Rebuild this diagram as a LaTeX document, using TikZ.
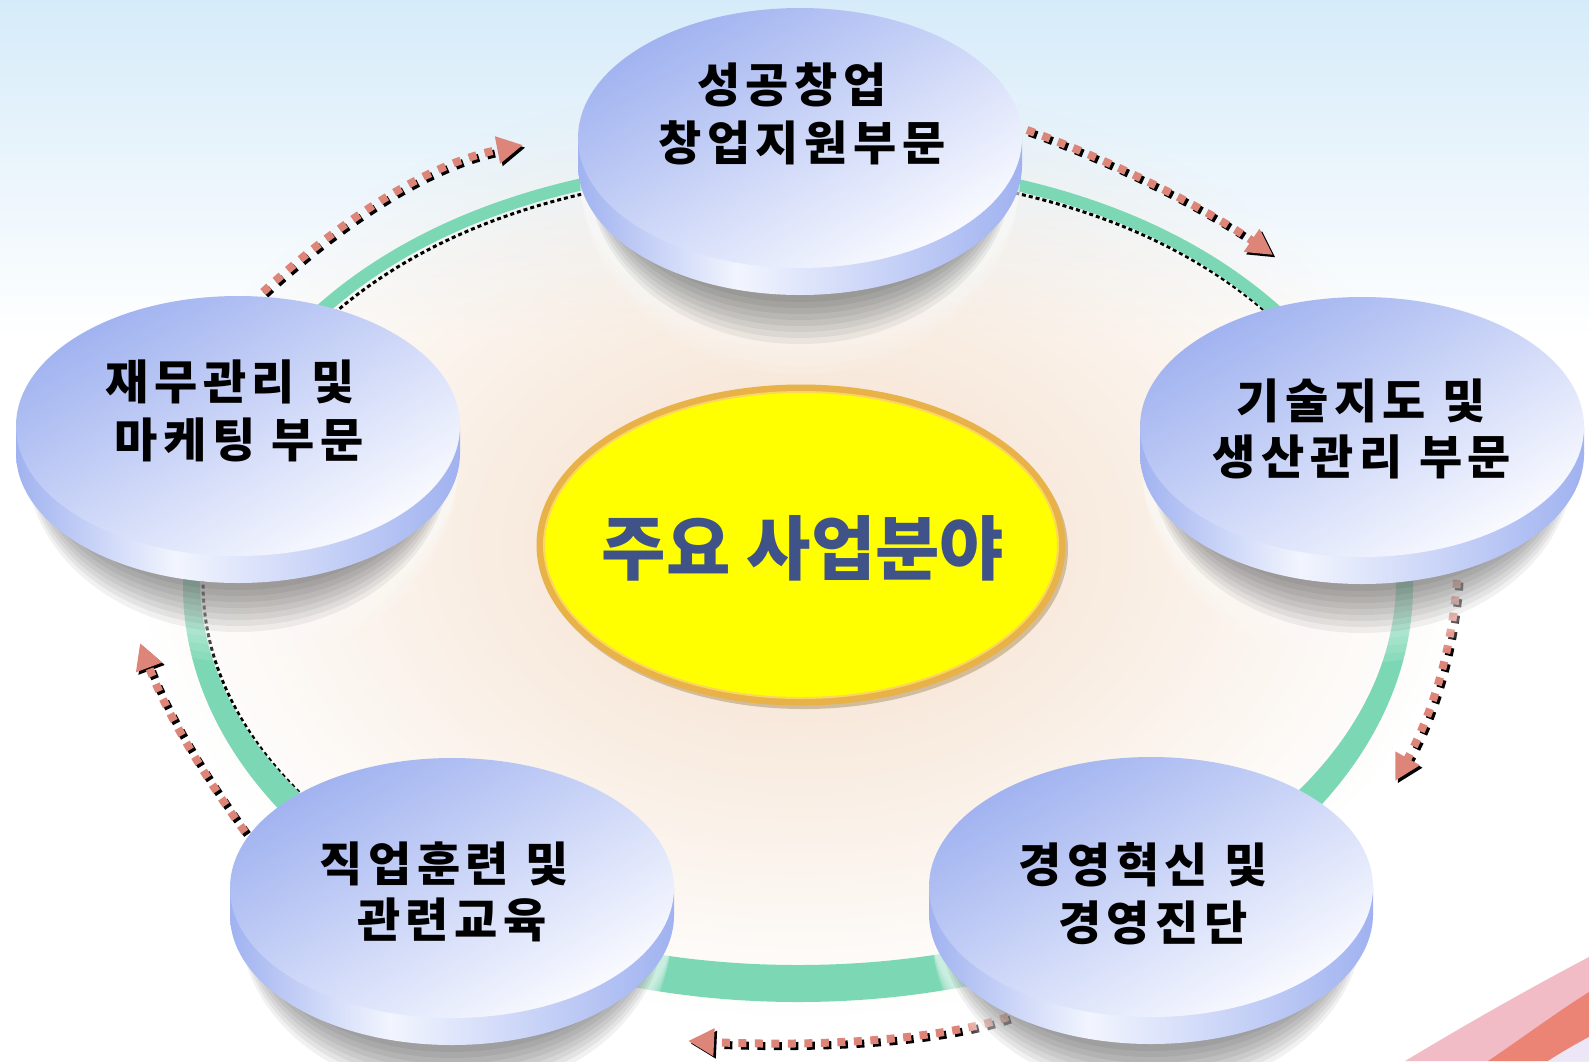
\documentclass[tikz,border=0pt]{standalone}
\usepackage{fontspec}
\newfontfamily\kr{Noto Sans CJK KR}
\usetikzlibrary{arrows.meta,fadings}
\definecolor{bgblue}{RGB}{214,235,249}
\definecolor{peach}{RGB}{244,221,200}
\definecolor{ringc}{RGB}{124,216,180}
\definecolor{arrc}{RGB}{220,133,120}
\definecolor{diskA}{RGB}{160,178,240}
\definecolor{diskB}{RGB}{250,251,255}
\definecolor{sideW}{RGB}{242,245,254}
\definecolor{yell}{RGB}{255,255,0}
\definecolor{gold}{RGB}{232,178,72}
\definecolor{goldL}{RGB}{250,214,96}
\definecolor{ctext}{RGB}{63,83,137}
\definecolor{pinkA}{RGB}{242,188,198}
\definecolor{salm}{RGB}{236,132,118}
\definecolor{lav}{RGB}{236,230,246}
\pgfdeclarehorizontalshading{diskside}{100bp}{color(0bp)=(diskA); color(25bp)=(diskA); color(43bp)=(sideW); color(75bp)=(diskA); color(100bp)=(diskA)}
\tikzfading[name=glowfade, inner color=transparent!0, outer color=transparent!100]
\tikzset{
  lbl/.style={font=\kr\bfseries\fontsize{47}{56}\selectfont\addfontfeature{LetterSpace=12}, anchor=base, inner sep=0pt, text=black},
  dotmain/.style={arrc, line width=8pt, dash pattern=on 8pt off 8.5pt, -{Triangle[length=26pt,width=26pt]}},
  dotshadow/.style={dotmain, black},
}
\newcommand\drawdisk[3]{%
  \shade[shading=diskside] (#2-222,#3) rectangle (#2+222,#3+27);
  \shade[shading=diskside] (#2,#3+27) ellipse [x radius=222, y radius=130];
  \shade[top color=diskA, bottom color=diskB, shading angle=30] (#2,#3) ellipse [x radius=222, y radius=130];
  \coordinate (#1) at (#2,#3);
}
\newcommand\diskshadow[2]{%
  \begin{scope}
  \clip (#1-260,#2+20) rectangle (#1+260,#2+320);
  \foreach \i in {0,...,7} {\fill[white, opacity=0.11] (#1,#2+40) ellipse [x radius=220, y radius={140+8*\i}];}
  \foreach \i in {0,...,7} {\fill[black, opacity=0.055] (#1,#2+34) ellipse [x radius={198+2*\i}, y radius={130+6*\i}];}
  \end{scope}
}
\newcommand\dotarrow[6]{%
  \draw[dotshadow] ([shift={(2.5,2.5)}]#1) .. controls (#2+2.5,#3+2.5) and (#4+2.5,#5+2.5) .. ([shift={(2.5,2.5)}]#6);
  \draw[dotmain] (#1) .. controls (#2,#3) and (#4,#5) .. (#6);
}
\newcommand\ringouter{(1413,586) .. controls (1413,394) and (1241,156) .. (798,156) .. controls (355,156) and (183,394) .. (183,586) .. controls (183,816) and (458,1002) .. (798,1002) .. controls (1138,1002) and (1413,816) .. (1413,586) -- cycle}
\newcommand\ringinner{(1396,580) .. controls (1396,396) and (1229,168) .. (798,168) .. controls (367,168) and (200,396) .. (200,580) .. controls (200,792.5) and (468,965) .. (798,965) .. controls (1128,965) and (1396,792.5) .. (1396,580) -- cycle}
\begin{document}
\begin{tikzpicture}[x=1pt,y=-1pt]
\useasboundingbox (0,0) rectangle (1589,1061);
\fill[white] (0,0) rectangle (1589,1061);
\shade[top color=bgblue, bottom color=white] (0,0) rectangle (1589,340);
\fill[peach, path fading=glowfade, fit fading=true] (801,545) ellipse [x radius=660, y radius=470];
% swoosh bottom right
\fill[pinkA] (1405,1061) .. controls (1470,1022) and (1530,988) .. (1589,957) -- (1589,1061) -- cycle;
\fill[salm] (1488,1061) .. controls (1525,1036) and (1557,1012) .. (1589,992) -- (1589,1061) -- cycle;
\fill[lav] (1548,1061) .. controls (1562,1052) and (1576,1044) .. (1589,1037) -- (1589,1061) -- cycle;
% ring
\begin{scope}[shift={(3,3)}]
\draw[black, line width=3pt, dash pattern=on 4pt off 3pt] \ringinner;
\end{scope}
\path[fill=ringc, even odd rule] \ringouter \ringinner;
% centre ellipse
\fill[black!40!gold, opacity=0.35] (804,549) ellipse [x radius=264, y radius=160];
\filldraw[fill=yell, draw=gold, line width=7pt] (801,545) ellipse [x radius=261, y radius=157];
\draw[goldL, line width=2pt] (801,545) ellipse [x radius=257, y radius=153];
\node[font=\kr\bfseries\fontsize{70}{80}\selectfont, text=ctext, anchor=base, inner sep=0pt] (core) at (803,574) {주요 사업분야};
% arrows
\coordinate (a1s) at (1027,130); \coordinate (a1e) at (1273,255);
\coordinate (a2s) at (1457,580); \coordinate (a2e) at (1395,781);
\coordinate (a3s) at (1008,1017); \coordinate (a3e) at (688,1041);
\coordinate (a4s) at (245,832); \coordinate (a4e) at (140,643);
\coordinate (a5s) at (263,292); \coordinate (a5e) at (523,145);
\dotarrow{a1s}{1110}{160}{1200}{205}{a1e}
\dotarrow{a2s}{1452}{650}{1432}{715}{a2e}
\dotarrow{a3s}{940}{1040}{820}{1047}{a3e}
\dotarrow{a4s}{200}{770}{165}{710}{a4e}
\dotarrow{a5s}{330}{230}{420}{165}{a5e}
% disk shadows
\diskshadow{800}{138}
\diskshadow{1362}{427}
\diskshadow{1151}{887}
\diskshadow{452}{888}
\diskshadow{238}{426}
% disks
\drawdisk{d1}{800}{138}
\drawdisk{d2}{1362}{427}
\drawdisk{d3}{1151}{887}
\drawdisk{d4}{452}{888}
\drawdisk{d5}{238}{426}
% labels
\node[lbl] (t1a) at (792,102) {성공창업};
\node[lbl] (t1b) at (802,160) {창업지원부문};
\node[lbl] (t2a) at (1361,418) {기술지도 및};
\node[lbl] (t2b) at (1362,474) {생산관리 부문};
\node[lbl] (t3a) at (1143,882) {경영혁신 및};
\node[lbl] (t3b) at (1153,940) {경영진단};
\node[lbl] (t4a) at (444,881) {직업훈련 및};
\node[lbl] (t4b) at (452,937) {관련교육};
\node[lbl] (t5a) at (230,399) {재무관리 및};
\node[lbl] (t5b) at (239,457) {마케팅 부문};
\end{tikzpicture}
\end{document}
